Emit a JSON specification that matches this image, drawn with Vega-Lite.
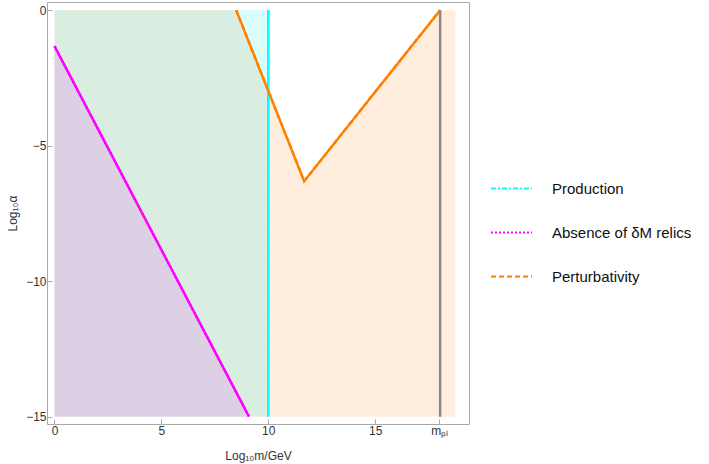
{
  "$schema": "https://vega.github.io/schema/vega-lite/v6.json",
  "width": 422,
  "height": 422,
  "autosize": {"type": "none"},
  "padding": {"left": 47, "top": 2, "right": 240, "bottom": 40},
  "background": "white",
  "datasets": {
    "regions": [
      {"c": "Perturbativity", "x": 0, "y": 0, "y2": -15},
      {"c": "Perturbativity", "x": 8.5, "y": 0, "y2": -15},
      {"c": "Perturbativity", "x": 11.68, "y": -6.31, "y2": -15},
      {"c": "Perturbativity", "x": 18.04, "y": 0, "y2": -15},
      {"c": "Perturbativity", "x": 18.75, "y": 0, "y2": -15},
      {"c": "Production", "x": 0, "y": 0, "y2": -15},
      {"c": "Production", "x": 10, "y": 0, "y2": -15},
      {"c": "Absence of δM relics", "x": 0, "y": -1.33, "y2": -15},
      {"c": "Absence of δM relics", "x": 9.1, "y": -15, "y2": -15}
    ],
    "lines": [
      {"c": "Production", "x": 10, "y": 0, "o": 1},
      {"c": "Production", "x": 10, "y": -15, "o": 2},
      {"c": "Absence of δM relics", "x": 0, "y": -1.33, "o": 1},
      {"c": "Absence of δM relics", "x": 9.1, "y": -15, "o": 2},
      {"c": "Perturbativity", "x": 8.5, "y": 0, "o": 1},
      {"c": "Perturbativity", "x": 11.68, "y": -6.31, "o": 2},
      {"c": "Perturbativity", "x": 18.04, "y": 0, "o": 3}
    ],
    "planck": [
      {"x": 18.04, "y": 0, "y2": -15}
    ]
  },
  "encoding": {
    "x": {
      "field": "x", "type": "quantitative",
      "scale": {"domain": [-0.35, 19.39], "nice": false, "zero": false},
      "axis": {
        "values": [0, 5, 10, 15, 18],
        "labelExpr": "datum.value == 18 ? 'mₚₗ' : datum.label",
        "title": "Log₁₀m/GeV",
        "titlePadding": 14
      }
    },
    "y": {
      "field": "y", "type": "quantitative",
      "scale": {"domain": [-15.27, 0.3], "nice": false, "zero": false},
      "axis": {
        "values": [0, -5, -10, -15],
        "title": "Log₁₀α",
        "titlePadding": 6
      }
    }
  },
  "layer": [
    {
      "data": {"name": "regions"},
      "mark": {"type": "area", "opacity": 0.15},
      "encoding": {
        "y2": {"field": "y2"},
        "fill": {
          "field": "c", "type": "nominal",
          "scale": {"domain": ["Perturbativity", "Production", "Absence of δM relics"], "range": ["#ff8c1a", "#00e8f0", "#ff30ff"]},
          "legend": null
        }
      }
    },
    {
      "data": {"name": "lines"},
      "mark": {"type": "line", "strokeWidth": 2.4},
      "encoding": {
        "order": {"field": "o"},
        "stroke": {
          "field": "c", "type": "nominal",
          "scale": {"domain": ["Production", "Absence of δM relics", "Perturbativity"], "range": ["#00ffff", "#ff00ff", "#ff8000"]},
          "legend": {"title": null, "orient": "none", "legendX": 443, "legendY": 165}
        },
        "strokeDash": {
          "field": "c", "type": "nominal",
          "scale": {"domain": ["Production", "Absence of δM relics", "Perturbativity"], "range": [[5, 2, 2, 2], [2, 2], [5, 3]]},
          "legend": {"title": null, "orient": "none", "legendX": 443, "legendY": 165}
        }
      }
    },
    {
      "data": {"name": "lines"},
      "mark": {"type": "line", "strokeWidth": 2.4},
      "encoding": {
        "order": {"field": "o"},
        "stroke": {"field": "c", "type": "nominal", "legend": {"title": null, "orient": "none", "legendX": 443, "legendY": 165}}
      }
    },
    {
      "data": {"name": "planck"},
      "mark": {"type": "rule", "color": "#888888", "strokeWidth": 2.5},
      "encoding": {
        "y2": {"field": "y2"}
      }
    }
  ],
  "config": {
    "font": "Liberation Sans",
    "view": {"stroke": "#a8a8a8", "strokeWidth": 1},
    "axis": {
      "grid": false,
      "domain": false,
      "tickColor": "#aaaaaa",
      "tickSize": -5,
      "labelFontSize": 12,
      "labelColor": "#333333",
      "titleFontSize": 12,
      "titleFontWeight": "normal",
      "titleColor": "#333333",
      "labelPadding": 6
    },
    "legend": {
      "padding": 0,
      "symbolType": "stroke",
      "symbolSize": 1681,
      "symbolStrokeWidth": 2,
      "rowPadding": 14,
      "labelOffset": 19,
      "labelFontSize": 15,
      "labelColor": "#111111",
      "labelLimit": 300
    }
  }
}
